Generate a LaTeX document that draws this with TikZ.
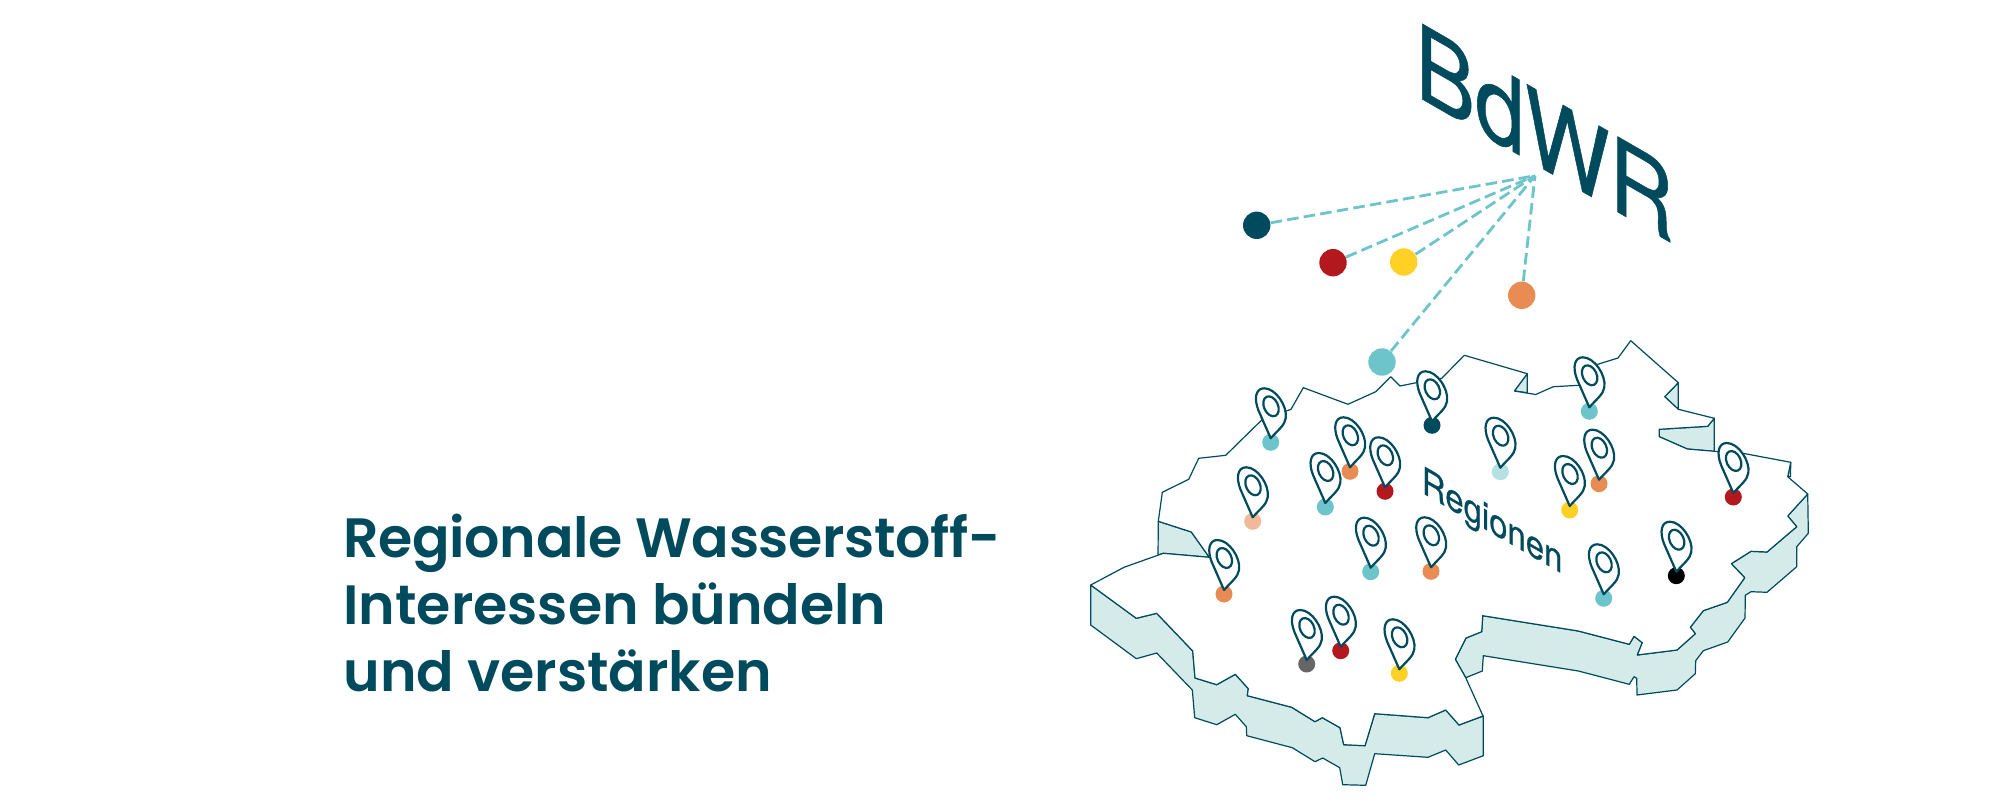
\documentclass[tikz,border=0pt]{standalone}
\usepackage{fontspec}
\setmainfont{TeX Gyre Heros}[FakeBold=0.6]
\newfontfamily\headfont{Poppins SemiBold}
\usetikzlibrary{positioning}
\definecolor{navy}{HTML}{004A5E}
\definecolor{aqua}{HTML}{6DC4CA}
\definecolor{pale}{HTML}{D5EBEA}
\definecolor{rust}{HTML}{B2181E}
\definecolor{sun}{HTML}{FFD124}
\definecolor{tang}{HTML}{E88C54}
\definecolor{peach}{HTML}{F2B89A}
\definecolor{mist}{HTML}{B5E1E3}
\definecolor{slate}{HTML}{666666}
\tikzstyle{member} = [circle,inner sep=0pt,minimum size=13.7pt]
\tikzstyle{spot} = [circle,inner sep=0pt,minimum size=8.5pt]
\tikzstyle{link} = [draw=aqua,line width=1.4pt,dash pattern=on 5.8pt off 2.6pt]
\tikzstyle{wall} = [draw=navy,fill=pale,line width=0.6pt,line join=round]
\tikzstyle{land} = [draw=navy,fill=white,line width=0.6pt,line join=round]
\tikzstyle{iso} = [text=navy,inner sep=0pt,anchor=base west,transform shape,cm={0.866,-0.5,0,1,(0,0)}]
\tikzset{mappin/.pic={
	\draw [navy,fill=white,line width=1.1pt,line join=round] (0,-4) -- (-12.3,-32)
		.. controls (-17,-44) and (-15,-54) .. (-6.5,-54)
		.. controls (5,-54) and (17,-36) .. (15,-24)
		.. controls (14,-17) and (8,-13) .. (0,-4) -- cycle;
	\draw [navy,line width=1.1pt] (0.3,-36) ellipse [x radius=7,y radius=10.5,rotate=25];
}}
\begin{document}
\begin{tikzpicture}[x=0.5pt,y=-0.5pt]
				\useasboundingbox (0,0) rectangle (2000,812);
				\node (title) [text=navy,font=\headfont\fontsize{27.7}{33.3}\selectfont,align=left,inner sep=0pt,anchor=north west] at (343,514) {{\addfontfeature{LetterSpace=-0.6}Regionale Wasserstoff-}\\Interessen bündeln\\und verstärken};
				\node (bdwr) [iso,font=\fontsize{51.7}{60}\selectfont] at (1415,95) {BdWR};
				\coordinate (hub) at (1535,175.7);
				\node (m1) [member,fill=navy] at (1256.7,225.3) {};
				\node (m2) [member,fill=rust] at (1333,262.7) {};
				\node (m3) [member,fill=sun] at (1403.7,262) {};
				\node (m4) [member,fill=tang] at (1521.7,295.3) {};
				\node (m5) [member,fill=aqua] at (1382,362) {};
				\foreach \m in {m1,m2,m3,m4,m5}
					\draw [link] (\m) -- (hub);
				\draw [wall] (1090.7,585) -- (1136.3,618.3) -- (1156.7,613.3) -- (1192.7,651) -- (1195,678) -- (1216.7,684.7) -- (1235.3,674.3) -- (1248.3,688.7) -- (1247.3,695.7) -- (1291.7,707.3) -- (1315,721.7) -- (1322.3,717.7) -- (1340,727.7) -- (1343.7,744.7) -- (1365,745.7) -- (1374.7,713.7) -- (1428,717.7) -- (1445.7,710) -- (1459,725) -- (1483.3,716) -- (1483.3,755.7) -- (1458.7,765) -- (1445.7,750) -- (1428,757.3) -- (1374.7,753.7) -- (1365.7,785.3) -- (1342.7,784.7) -- (1339.7,767.7) -- (1322.7,758) -- (1315,761.7) -- (1292.3,747.7) -- (1246.7,735.7) -- (1246.3,726.7) -- (1235.3,714.3) -- (1216.7,724.7) -- (1194.7,717.7) -- (1192.3,690) -- (1156.7,653) -- (1136.3,658.7) -- (1090.7,625) -- cycle;
				\draw [wall] (1465.7,677.7) -- (1455.3,659.3) -- (1466,638) -- (1481.7,631.7) -- (1482.7,615.7) -- (1578.3,631) -- (1629.3,644.3) -- (1634,636.3) -- (1642.3,642.7) -- (1637.3,655) -- (1677,650) -- (1695.3,633.7) -- (1690.3,627.3) -- (1703.3,610.7) -- (1727.3,602.3) -- (1744.7,577.7) -- (1731.3,563.7) -- (1751,551.3) -- (1767,552) -- (1796.7,526.7) -- (1787.7,516) -- (1807.7,494) -- (1808.3,533.3) -- (1796.7,546.7) -- (1796.7,566.7) -- (1767,592.3) -- (1751,591.7) -- (1745.3,595.3) -- (1745,618) -- (1727.7,642) -- (1703.3,650.7) -- (1695.7,660.7) -- (1695.3,673.7) -- (1677,690) -- (1637,695) -- (1636.7,678.3) -- (1634,676.7) -- (1629.3,684.3) -- (1578.3,671) -- (1483.3,655.7) -- (1482.3,671) -- cycle;
				\draw [wall] (1158.3,521.3) -- (1191.3,532) -- (1209.3,557.3) -- (1163.3,553.3) -- (1158,555) -- cycle;
				\draw [wall] (1527.3,373.7) -- (1514.3,391) -- (1527.3,392.7) -- cycle;
				\draw [wall] (1678.3,382.7) -- (1664.7,396.7) -- (1678.3,409.3) -- cycle;
				\draw [wall] (1714.3,418.3) -- (1707.7,426.3) -- (1659.3,429.3) -- (1659.3,436.7) -- (1687.3,449) -- (1714.3,451.3) -- cycle;
				\draw [wall] (1790.7,462.3) -- (1787.7,476.7) -- (1790.5,476.7) -- cycle;
				\draw [land] (1090.7,585) -- (1124,567.3) -- (1163.3,553.3) -- (1209.3,557.3) -- (1191.3,532) -- (1158.3,521.3) -- (1162.3,492.3) -- (1188.7,479.3) -- (1198.7,458.3) -- (1225.7,455.3) -- (1261.7,420) -- (1291,409.3) -- (1303.3,387.7) -- (1348,404.3) -- (1375.7,391.7) -- (1390.7,376.7) -- (1400,386) -- (1418.3,382.3) -- (1441.7,378.3) -- (1464.3,355.3) -- (1527.3,373.7) -- (1514.3,391) -- (1535.7,394.5) -- (1553.3,386.7) -- (1579.3,385.3) -- (1597.7,364.3) -- (1618,358) -- (1630.7,340.7) -- (1678.3,382.7) -- (1664.7,396.7) -- (1678.3,409.3) -- (1714.3,418.3) -- (1707.7,426.3) -- (1659.3,429.3) -- (1659.3,436.7) -- (1687.3,449) -- (1714.3,451.3) -- (1745,453.7) -- (1790.7,462.3) -- (1787.7,476.7) -- (1807.7,494) -- (1787.7,516) -- (1796.7,526.7) -- (1767,552) -- (1751,551.3) -- (1731.3,563.7) -- (1744.7,577.7) -- (1727.3,602.3) -- (1703.3,610.7) -- (1690.3,627.3) -- (1695.3,633.7) -- (1677,650) -- (1637.3,655) -- (1642.3,642.7) -- (1634,636.3) -- (1629.3,644.3) -- (1578.3,631) -- (1482.7,615.7) -- (1481.7,631.7) -- (1466,638) -- (1455.3,659.3) -- (1465.7,677.7) -- (1483,716) -- (1459,725) -- (1445.7,710) -- (1428,717.7) -- (1374.7,713.7) -- (1365,745.7) -- (1343.7,744.7) -- (1340,727.7) -- (1322.3,717.7) -- (1315,721.7) -- (1291.7,707.3) -- (1247.3,695.7) -- (1248.3,688.7) -- (1235.3,674.3) -- (1216.7,684.7) -- (1195,678) -- (1192.7,651) -- (1156.7,613.3) -- (1136.3,618.3) -- cycle;
				\node (regionen) [iso,font=\fontsize{19}{22}\selectfont] at (1421.5,492.5) {Regionen};
				\foreach \i/\px/\py/\clr in {1/1270.7/442.3/aqua,2/1432/425.3/navy,3/1350/471.3/tang,4/1385/491.3/rust,5/1325.3/507/aqua,6/1252.7/521.3/peach,7/1500.3/471.7/mist,8/1370.7/571.7/aqua,9/1431/571.3/tang,10/1224/594/tang,11/1306.7/664/slate,12/1340.7/650.7/rust,13/1399.3/673.3/sun,14/1589.3/411.3/aqua,15/1599/483.7/tang,16/1569.7/510/sun,17/1733.3/497/rust,18/1676.3/575.7/black,19/1603.7/598.3/aqua} {
					\node (s\i) [spot,fill=\clr] at (\px,\py) {};
					\pic at (s\i) {mappin};
				}
			\end{tikzpicture}
\end{document}
